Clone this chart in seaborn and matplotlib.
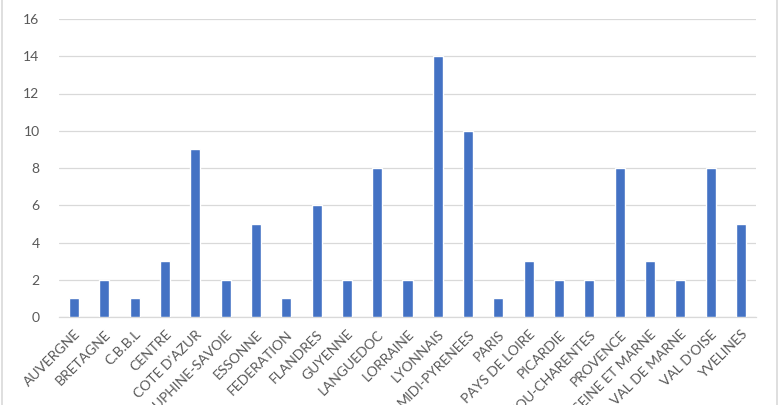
import matplotlib
matplotlib.use("Agg")
import matplotlib.pyplot as plt
import seaborn as sns
import pandas as pd
from matplotlib.patches import Rectangle

categories = ["AUVERGNE", "BRETAGNE", "C.B.B.L", "CENTRE", "COTE D'AZUR",
              "DAUPHINE-SAVOIE", "ESSONNE", "FEDERATION", "FLANDRES", "GUYENNE",
              "LANGUEDOC", "LORRAINE", "LYONNAIS", "MIDI-PYRENEES", "PARIS",
              "PAYS DE LOIRE", "PICARDIE", "POITOU-CHARENTES", "PROVENCE",
              "SEINE ET MARNE", "VAL DE MARNE", "VAL D'OISE", "YVELINES"]
values = [1, 2, 1, 3, 9, 2, 5, 1, 6, 2, 8, 2, 14, 10, 1, 3, 2, 2, 8, 3, 2, 8, 5]
y_ticks = [0, 2, 4, 6, 8, 10, 12, 14, 16]

sns.set_theme(style="white")
plt.rcParams['font.family'] = ['Lato', 'DejaVu Sans']

df = pd.DataFrame({"cat": categories, "val": values})

fig = plt.figure(figsize=(7.8, 4.05), dpi=100)
ax = fig.add_axes([59/780, 88/405, (756-59)/780, (317-19)/405])
sns.barplot(data=df, x="cat", y="val", color="#4472C4", width=0.33,
            saturation=1, ax=ax, zorder=3)

ax.set_ylim(0, 16)
ax.set_yticks(y_ticks)
ax.set_xlim(-0.5, len(categories) - 0.5)
ax.set_xlabel("")
ax.set_ylabel("")
ax.grid(axis="y", color="#D9D9D9", linewidth=0.9, zorder=0)
ax.grid(axis="x", visible=False)
for s in ["left", "right", "top"]:
    ax.spines[s].set_visible(False)
ax.spines["bottom"].set_color("#D9D9D9")
ax.spines["bottom"].set_linewidth(0.9)
ax.tick_params(axis="both", length=0, colors="#595959", labelsize=10)
ax.tick_params(axis="y", pad=14)
ax.set_xticks(range(len(categories)))
ax.set_xticklabels(categories, rotation=45, ha="right", va="top",
                   rotation_mode="anchor")
ax.tick_params(axis="x", pad=8)

fig.patches.append(Rectangle((2/780, -0.1), 775/780, 1.2, transform=fig.transFigure,
                             fill=False, edgecolor="#D9D9D9", linewidth=1.2))
fig.savefig("out.png", dpi=100)
